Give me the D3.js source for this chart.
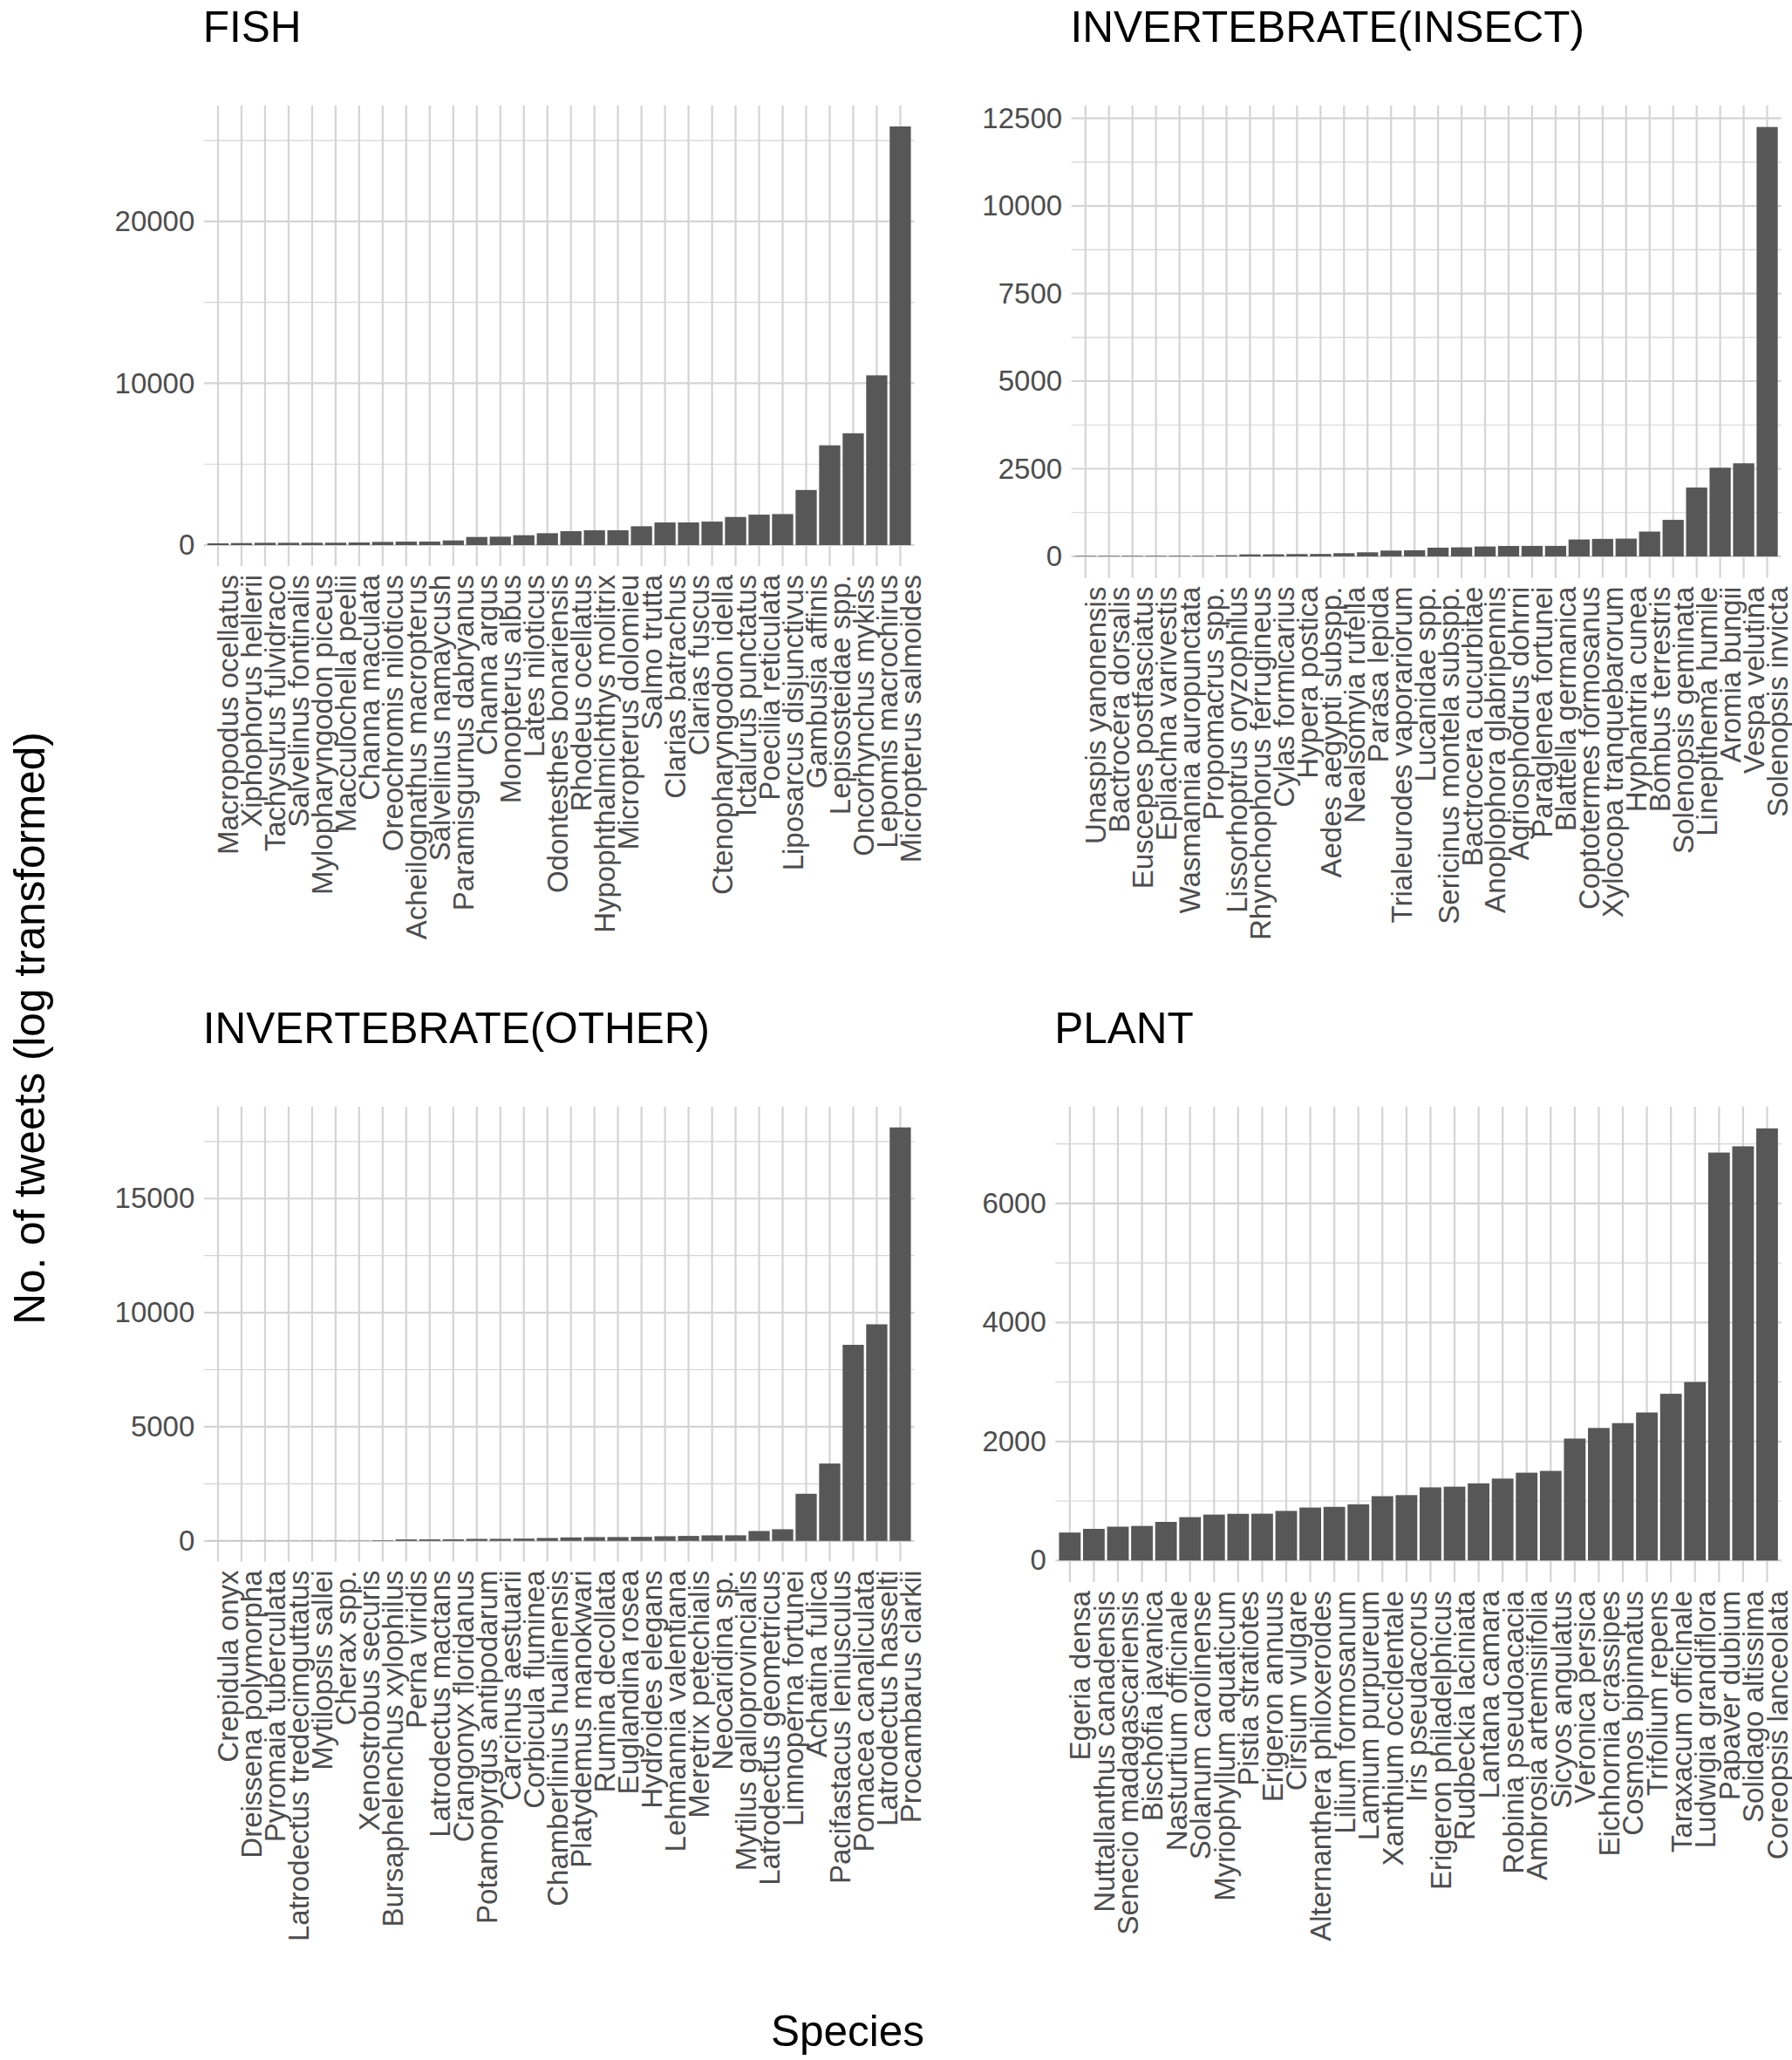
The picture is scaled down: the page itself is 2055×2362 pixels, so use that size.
<!DOCTYPE html>
<html>
<head>
<meta charset="utf-8">
<script src="https://cdn.jsdelivr.net/npm/d3@7"></script>
<style>
  html, body { margin: 0; padding: 0; background: #ffffff; }
  svg { display: block; }
  text { font-family: "Liberation Sans", Arial, Helvetica, sans-serif; }
</style>
</head>
<body>
<div id="chart"></div>
<script>
// ---------------- DATA ----------------
const panelTitles = ["FISH", "INVERTEBRATE(INSECT)", "INVERTEBRATE(OTHER)", "PLANT"];

const fishSpecies = ["Macropodus ocellatus", "Xiphophorus hellerii", "Tachysurus fulvidraco", "Salvelinus fontinalis",
  "Mylopharyngodon piceus", "Macculochella peelii", "Channa maculata", "Oreochromis niloticus",
  "Acheilognathus macropterus", "Salvelinus namaycush", "Paramisgurnus dabryanus", "Channa argus",
  "Monopterus albus", "Lates niloticus", "Odontesthes bonariensis", "Rhodeus ocellatus",
  "Hypophthalmichthys molitrix", "Micropterus dolomieu", "Salmo trutta", "Clarias batrachus",
  "Clarias fuscus", "Ctenopharyngodon idella", "Ictalurus punctatus", "Poecilia reticulata",
  "Liposarcus disjunctivus", "Gambusia affinis", "Lepisosteidae spp.", "Oncorhynchus mykiss",
  "Lepomis macrochirus", "Micropterus salmoides"];
const fishCounts = [108, 125, 143, 143, 145, 148, 161, 197, 215, 218, 287, 502, 520, 609, 735, 860,
  914, 916, 1165, 1398, 1400, 1452, 1738, 1882, 1917, 3405, 6165, 6910, 10490, 25870];

const insectSpecies = ["Unaspis yanonensis", "Bactrocera dorsalis", "Euscepes postfasciatus", "Epilachna varivestis",
  "Wasmannia auropunctata", "Propomacrus spp.", "Lissorhoptrus oryzophilus", "Rhynchophorus ferrugineus",
  "Cylas formicarius", "Hypera postica", "Aedes aegypti subspp.", "Nealsomyia rufella", "Parasa lepida",
  "Trialeurodes vaporariorum", "Lucanidae spp.", "Sericinus montela subspp.", "Bactrocera cucurbitae",
  "Anoplophora glabripennis", "Agriosphodrus dohrni", "Paraglenea fortunei", "Blattella germanica",
  "Coptotermes formosanus", "Xylocopa tranquebarorum", "Hyphantria cunea", "Bombus terrestris",
  "Solenopsis geminata", "Linepithema humile", "Aromia bungii", "Vespa velutina", "Solenopsis invicta"];
const insectCounts = [15, 16, 17, 18, 19, 20, 33, 58, 60, 67, 69, 92, 117, 167, 175, 250, 258, 283, 298,
  300, 300, 483, 500, 508, 708, 1042, 1965, 2530, 2656, 12250];

const otherSpecies = ["Crepidula onyx", "Dreissena polymorpha", "Pyromaia tuberculata", "Latrodectus tredecimguttatus",
  "Mytilopsis sallei", "Cherax spp.", "Xenostrobus securis", "Bursaphelenchus xylophilus", "Perna viridis",
  "Latrodectus mactans", "Crangonyx floridanus", "Potamopyrgus antipodarum", "Carcinus aestuarii",
  "Corbicula fluminea", "Chamberlinius hualinensis", "Platydemus manokwari", "Rumina decollata",
  "Euglandina rosea", "Hydroides elegans", "Lehmannia valentiana", "Meretrix petechialis", "Neocaridina sp.",
  "Mytilus galloprovincialis", "Latrodectus geometricus", "Limnoperna fortunei", "Achatina fulica",
  "Pacifastacus leniusculus", "Pomacea canaliculata", "Latrodectus hasselti", "Procambarus clarkii"];
const otherCounts = [5, 6, 7, 8, 9, 10, 11, 25, 64, 66, 68, 89, 91, 102, 127, 153, 166, 168, 178, 204,
  217, 242, 245, 433, 510, 2064, 3390, 8590, 9490, 18115];

const plantSpecies = ["Egeria densa", "Nuttallanthus canadensis", "Senecio madagascariensis", "Bischofia javanica",
  "Nasturtium officinale", "Solanum carolinense", "Myriophyllum aquaticum", "Pistia stratiotes",
  "Erigeron annuus", "Cirsium vulgare", "Alternanthera philoxeroides", "Lilium formosanum",
  "Lamium purpureum", "Xanthium occidentale", "Iris pseudacorus", "Erigeron philadelphicus",
  "Rudbeckia laciniata", "Lantana camara", "Robinia pseudoacacia", "Ambrosia artemisiifolia",
  "Sicyos angulatus", "Veronica persica", "Eichhornia crassipes", "Cosmos bipinnatus", "Trifolium repens",
  "Taraxacum officinale", "Ludwigia grandiflora", "Papaver dubium", "Solidago altissima", "Coreopsis lanceolata"];
const plantCounts = [469, 531, 568, 580, 648, 728, 771, 784, 786, 833, 889, 901, 944, 1080, 1098, 1228,
  1240, 1296, 1376, 1475, 1505, 2048, 2227, 2308, 2487, 2801, 2999, 6855, 6960, 7262];

const fishTicks = [0, 10000, 20000];
const fishMinor = [5000, 15000, 25000];
const insectTicks = [0, 2500, 5000, 7500, 10000, 12500];
const insectMinor = [1250, 3750, 6250, 8750, 11250];
const otherTicks = [0, 5000, 10000, 15000];
const otherMinor = [2500, 7500, 12500, 17500];
const plantTicks = [0, 2000, 4000, 6000];
const plantMinor = [1000, 3000, 5000, 7000];

const yAxisTitle = "No. of tweets (log transformed)";
const xAxisTitle = "Species";

// ---------------- LAYOUT ----------------
const W = 2055, H = 2362;
const panels = [
  { title: panelTitles[0], cats: fishSpecies, vals: fishCounts, ticks: fishTicks, minor: fishMinor,
    x0: 233.8, x1: 1048.6, y0: 121, y1: 649, titleY: 48 },
  { title: panelTitles[1], cats: insectSpecies, vals: insectCounts, ticks: insectTicks, minor: insectMinor,
    x0: 1228.6, x1: 2042.7, y0: 121, y1: 662.6, titleY: 48 },
  { title: panelTitles[2], cats: otherSpecies, vals: otherCounts, ticks: otherTicks, minor: otherMinor,
    x0: 233.8, x1: 1048.6, y0: 1269, y1: 1790.5, titleY: 1195.5 },
  { title: panelTitles[3], cats: plantSpecies, vals: plantCounts, ticks: plantTicks, minor: plantMinor,
    x0: 1210.3, x1: 2043, y0: 1269, y1: 1814, titleY: 1195.5 }
];

const gridColor = "#d4d4d4";
const barColor = "#575757";
const tickColor = "#4d4d4d";
const fontStack = "'Liberation Sans', Arial, Helvetica, sans-serif";

const svg = d3.select("#chart").append("svg")
  .attr("width", W).attr("height", H)
  .attr("viewBox", `0 0 ${W} ${H}`);

svg.append("rect").attr("width", W).attr("height", H).attr("fill", "#ffffff");

panels.forEach(p => {
  const x = d3.scaleBand().domain(p.cats).range([p.x0, p.x1])
    .paddingInner(0.1).paddingOuter(0.15);
  const M = d3.max(p.vals);
  const y = d3.scaleLinear().domain([-0.05 * M, 1.05 * M]).range([p.y1, p.y0]);

  const g = svg.append("g");

  // minor horizontal gridlines
  g.append("g").selectAll("line").data(p.minor).join("line")
    .attr("x1", p.x0).attr("x2", p.x1)
    .attr("y1", d => y(d)).attr("y2", d => y(d))
    .attr("stroke", gridColor).attr("stroke-width", 1.2);

  // major horizontal gridlines
  g.append("g").selectAll("line").data(p.ticks).join("line")
    .attr("x1", p.x0).attr("x2", p.x1)
    .attr("y1", d => y(d)).attr("y2", d => y(d))
    .attr("stroke", gridColor).attr("stroke-width", 2.2);

  // vertical gridlines
  g.append("g").selectAll("line").data(p.cats).join("line")
    .attr("x1", d => x(d) + x.bandwidth() / 2).attr("x2", d => x(d) + x.bandwidth() / 2)
    .attr("y1", p.y0).attr("y2", p.y1)
    .attr("stroke", gridColor).attr("stroke-width", 2.2);

  // bars
  g.append("g").selectAll("rect").data(p.cats.map((c, i) => ({ c, v: p.vals[i] }))).join("rect")
    .attr("x", d => x(d.c)).attr("width", x.bandwidth())
    .attr("y", d => y(d.v)).attr("height", d => y(0) - y(d.v))
    .attr("fill", barColor);

  // y axis
  const ya = g.append("g").attr("transform", `translate(${p.x0},0)`)
    .call(d3.axisLeft(y).tickValues(p.ticks).tickSize(0).tickPadding(10.5).tickFormat(d3.format("d")));
  ya.select(".domain").remove();
  ya.selectAll("text")
    .attr("fill", tickColor)
    .style("font-size", "33px")
    .style("font-family", fontStack);

  // x axis
  const xa = g.append("g").attr("transform", `translate(0,${p.y1})`)
    .call(d3.axisBottom(x).tickSize(0));
  xa.select(".domain").remove();
  xa.selectAll("text")
    .attr("transform", "rotate(-90)")
    .attr("x", -10).attr("y", 0).attr("dy", "0.71em")
    .style("text-anchor", "end")
    .attr("fill", tickColor)
    .style("font-size", "33px")
    .style("font-family", fontStack);

  // panel title
  svg.append("text")
    .attr("x", p.x0 - 1).attr("y", p.titleY)
    .attr("fill", "#000000")
    .style("font-size", "49.5px")
    .text(p.title);
});

// axis titles
svg.append("text")
  .attr("transform", "translate(51,1179) rotate(-90)")
  .attr("text-anchor", "middle")
  .attr("fill", "#000000")
  .style("font-size", "49.5px")
  .text(yAxisTitle);

svg.append("text")
  .attr("x", 972).attr("y", 2346)
  .attr("text-anchor", "middle")
  .attr("fill", "#000000")
  .style("font-size", "49.5px")
  .text(xAxisTitle);
</script>
</body>
</html>
